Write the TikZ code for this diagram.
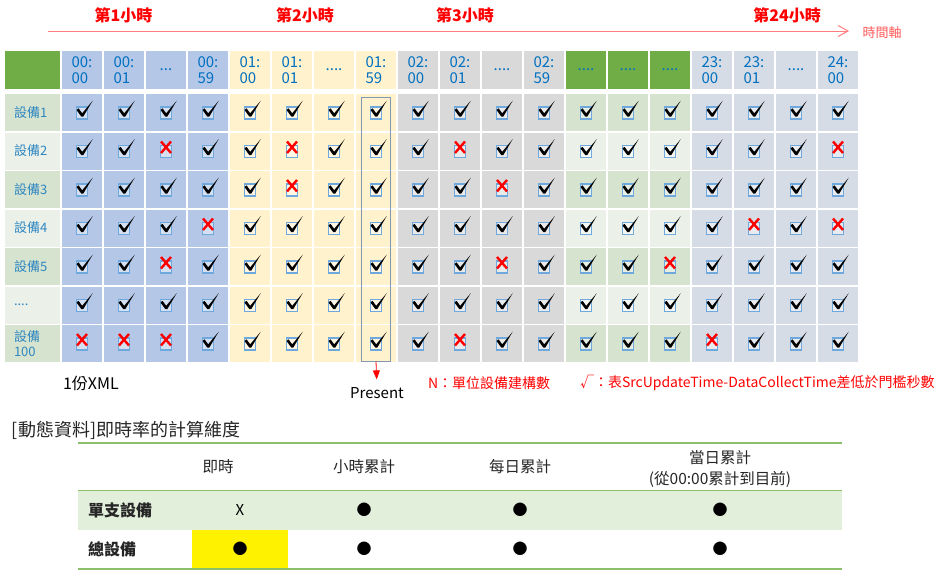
\documentclass[tikz,border=0pt]{standalone}
\usepackage{fontspec}
\setmainfont{Noto Sans CJK TC}
\usetikzlibrary{arrows.meta}
\definecolor{cblue}{HTML}{B4C7E7}
\definecolor{cyel}{HTML}{FFF2CC}
\definecolor{cgray}{HTML}{D9D9D9}
\definecolor{cgrn}{HTML}{70AD47}
\definecolor{cgdk}{HTML}{D5E3CF}
\definecolor{cglt}{HTML}{EBF1E9}
\definecolor{cbg}{HTML}{D6DCE5}
\definecolor{ctxt}{HTML}{0070C0}
\definecolor{clab}{HTML}{2E86C1}
\definecolor{cbox}{HTML}{6FA8DC}
\definecolor{cline}{HTML}{FF7C80}
\definecolor{ctab}{HTML}{8CBF6A}
\definecolor{crow}{HTML}{E2EFDA}
\definecolor{cpres}{HTML}{8497B0}
\definecolor{cdark}{HTML}{262626}
\definecolor{caxis}{HTML}{FF5A5A}
\newcommand\fsz[2]{\fontsize{#1pt}{#2pt}\selectfont}
\newcommand\pickcol[2]{%
  \ifnum#1<5 \def\cf{cblue}\else
  \ifnum#1<9 \def\cf{cyel}\else
  \ifnum#1<13 \def\cf{cgray}\else
  \ifnum#1<16 \ifodd#2 \def\cf{cgdk}\else\def\cf{cglt}\fi\else
  \def\cf{cbg}\fi\fi\fi\fi}
\tikzset{
  boxpart/.style={draw=cbox, line width=1.2pt, fill=white, fill opacity=0.45},
  pics/chk/.style={code={
    \path[boxpart] (-5.5,-5.5) rectangle (5.5,6.5);
    \fill[black] (-5.5,-2.5) -- (-3.5,-4.2) -- (0.2,0.8) -- (10.7,-11.8) -- (1.2,4.2) -- (-0.6,4.2) -- cycle;}},
  pics/crs/.style={code={
    \path[boxpart] (-5.5,-5.5) rectangle (5.5,6.5);
    \draw[red, line width=2.4pt] (-5,-9.5) -- (5,2) (5,-9.5) -- (-5,2);}},
}
\begin{document}
\begin{tikzpicture}[x=1pt,y=-1pt,
  every node/.style={inner sep=0pt, outer sep=0pt},
  cellb/.style={anchor=north west, minimum width=40pt, minimum height=37pt},
  hdrb/.style={anchor=north west, minimum width=40pt, minimum height=38pt, font=\fsz{15}{16.5}, text=ctxt, align=left},
  hourlab/.style={font=\bfseries\fsz{16}{18}, text=red},
  redtxt/.style={anchor=west, font=\fsz{14}{16}, text=red},
  thead/.style={font=\fsz{15.5}{21}, text=cdark, align=center},
  tval/.style={font=\fsz{15}{18}, text=black},
]
\fill[white] (0,0) rectangle (948,570);
\useasboundingbox (0,0) rectangle (948,570);

\foreach \p in {2-3,2-6,2-10,2-19,3-6,3-11,4-4,4-17,4-19,5-3,5-11,5-15,7-1,7-2,7-3,7-10,7-16}{%
  \expandafter\xdef\csname xx\p\endcsname{1}}

% hour labels and axis
\node[hourlab] (t1) at (123.5,15) {第1小時};
\node[hourlab] (t2) at (305,15) {第2小時};
\node[hourlab] (t3) at (465,15) {第3小時};
\node[hourlab] (t24) at (787,15) {第24小時};
\coordinate (axa) at (48,31);
\coordinate (axb) at (848,31);
\draw[cline, line width=1pt] (axa) -- (axb);
\draw[cline, line width=1pt] (axb) ++(-10,-5.5) -- (axb) -- ++(-10,5.5);
\node[font=\fsz{13}{15}, text=caxis] (axl) at (882,32.5) {時間軸};

% header row
\node[anchor=north west, minimum width=55pt, minimum height=38pt, fill=cgrn] (h-0) at (5,51) {};
\foreach \c/\t in {1/{00:\\00},2/{00:\\01},3/{...},4/{00:\\59},5/{01:\\00},6/{01:\\01},7/{....},8/{01:\\59},9/{02:\\00},10/{02:\\01},11/{....},12/{02:\\59},13/{....},14/{....},15/{....},16/{23:\\00},17/{23:\\01},18/{....},19/{24:\\00}}{%
  \pickcol{\c}{2}%
  \ifnum\c>12 \ifnum\c<16 \def\cf{cgrn}\fi\fi
  \node[hdrb, fill=\cf] (h-\c) at ({62+(\c-1)*42},51) {\t};
}

% row labels
\foreach \r/\lab in {1/{設備1},2/{設備2},3/{設備3},4/{設備4},5/{設備5},6/{....},7/{設備\\100}}{%
  \pgfmathsetmacro\ytop{94+(\r-1)*38.5}
  \ifodd\r \def\cf{cgdk}\else\def\cf{cglt}\fi
  \node[anchor=north west, minimum width=55pt, minimum height=37pt, fill=\cf] (l-\r) at (5,\ytop) {};
  \node[anchor=west, font=\fsz{13}{15}, text=clab, align=left] (lt-\r) at (14,\ytop+18.5) {\lab};
}

% body cells
\foreach \r in {1,...,7}{%
  \pgfmathsetmacro\ytop{94+(\r-1)*38.5}
  \foreach \c in {1,...,19}{%
    \pickcol{\c}{\r}%
    \node[cellb, fill=\cf] (b-\r-\c) at ({62+(\c-1)*42},\ytop) {};
    \ifcsname xx\r-\c\endcsname
      \pic at (b-\r-\c.center) {crs};
    \else
      \pic at (b-\r-\c.center) {chk};
    \fi
  }
}

% present marker
\node[draw=cpres, line width=1pt, anchor=north west, minimum width=29pt, minimum height=264pt] (pres) at (361.5,97.5) {};
\node[font=\fsz{15}{17}, text=black, inner sep=1pt] (presl) at (377,393) {Present};
\draw[red, line width=0.8pt, shorten >=7pt, -{Triangle[length=9pt,width=7pt]}] (pres.south) -- (presl.north);

% notes under the grid
\node[anchor=west, font=\fsz{16}{18}, text=black] (xml) at (63,383) {1份XML};
\node[redtxt] (nt) at (428,383) {N：單位設備建構數};
\node[redtxt] (vt) at (580,383) {√：表SrcUpdateTime-DataCollectTime差低於門檻秒數};

% table
\node[anchor=west, font=\fsz{18}{20}, text=cdark] (ttl) at (12,430) {[動態資料]即時率的計算維度};
\fill[crow] (78,491) rectangle (842,529.5);
\fill[yellow] (192,530) rectangle (288,568);
\draw[ctab, line width=2pt] (78,443) -- (842,443);
\draw[ctab, line width=1.6pt] (78,490.5) -- (842,490.5);
\draw[ctab, line width=2pt] (78,568.5) -- (842,568.5);

\node[thead] (th1) at (218,467) {即時};
\node[thead] (th2) at (364,467) {小時累計};
\node[thead] (th3) at (520,467) {每日累計};
\node[thead] (th4) at (720,468.5) {當日累計\\(從00:00累計到目前)};

\node[anchor=west, font=\bfseries\fsz{16}{18}, text=cdark] (r1) at (88,510) {單支設備};
\node[anchor=west, font=\bfseries\fsz{16}{18}, text=cdark] (r2) at (88,549) {總設備};

\node[tval] (v11) at (240,510) {X};
\node[tval] (v12) at (364,510) {●};
\node[tval] (v13) at (520,510) {●};
\node[tval] (v14) at (720,510) {●};
\node[tval] (v21) at (240,549) {●};
\node[tval] (v22) at (364,549) {●};
\node[tval] (v23) at (520,549) {●};
\node[tval] (v24) at (720,549) {●};
\end{tikzpicture}
\end{document}
